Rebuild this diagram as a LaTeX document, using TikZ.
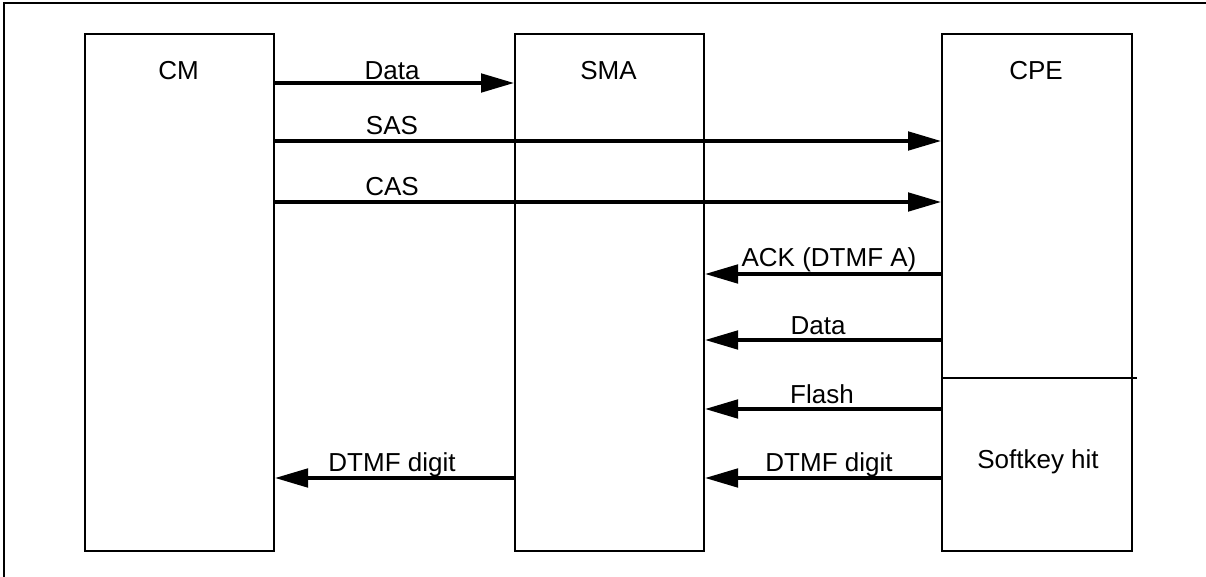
\documentclass[tikz,border=0pt]{standalone}
\usepackage{fontspec}
\setmainfont{Liberation Sans}
\usepackage{tikz}
\usetikzlibrary{arrows.meta}

\begin{document}
\begin{tikzpicture}[
    x=0.02cm, y=-0.02cm,
    box/.style={rectangle, draw, line width=1.2pt, anchor=north west, minimum height=10.34cm, inner sep=0pt},
    lbl/.style={font=\fontsize{14.8}{18}\selectfont, anchor=base, inner sep=0pt},
    arr/.style={-{Triangle[length=0.66cm, width=0.37cm]}, line width=2pt},
    frame/.style={draw, line width=1.1pt},
]
\useasboundingbox (0,0) rectangle (1206,577);
\draw[frame] (4,3) rectangle (1300,700);

% === ENTITIES ===
\node[box, minimum width=3.78cm] (cm)  at (84,33)  {};
\node[box, minimum width=3.78cm] (sma) at (514,33) {};
\node[box, minimum width=3.80cm] (cpe) at (941,33) {};

\node[lbl] (cmlbl)  at (178.5,80) {CM};
\node[lbl] (smalbl) at (608.5,80) {SMA};
\node[lbl] (cpelbl) at (1036,80)  {CPE};

% softkey part of the CPE
\draw[line width=0.9pt] (cpe.west |- 0,378) -- ([xshift=2pt] cpe.east |- 0,378);
\node[lbl] (softkey) at (1038,468) {Softkey hit};

% === CM TO SMA / CPE ===
\draw[arr] (cm.east |- 0,83)  -- (sma.west |- 0,83);
\draw[arr] (cm.east |- 0,141) -- (cpe.west |- 0,141);
\draw[arr] (cm.east |- 0,202) -- (cpe.west |- 0,202);
\node[lbl] (data1) at (392,80)  {Data};
\node[lbl] (sas)   at (392,135) {SAS};
\node[lbl] (cas)   at (392,196) {CAS};

% === CPE TO SMA ===
\draw[arr] (cpe.west |- 0,274) -- (sma.east |- 0,274);
\draw[arr] (cpe.west |- 0,340) -- (sma.east |- 0,340);
\draw[arr] (cpe.west |- 0,409) -- (sma.east |- 0,409);
\draw[arr] (cpe.west |- 0,478) -- (sma.east |- 0,478);
\node[lbl] (ack)    at (829,267) {ACK (DTMF A)};
\node[lbl] (data2)  at (818,335) {Data};
\node[lbl] (flash)  at (822,403) {Flash};
\node[lbl] (dtmfr)  at (829,471) {DTMF digit};

% === SMA TO CM ===
\draw[arr] (sma.west |- 0,478) -- (cm.east |- 0,478);
\node[lbl] (dtmfl) at (392,471) {DTMF digit};

\end{tikzpicture}
\end{document}
